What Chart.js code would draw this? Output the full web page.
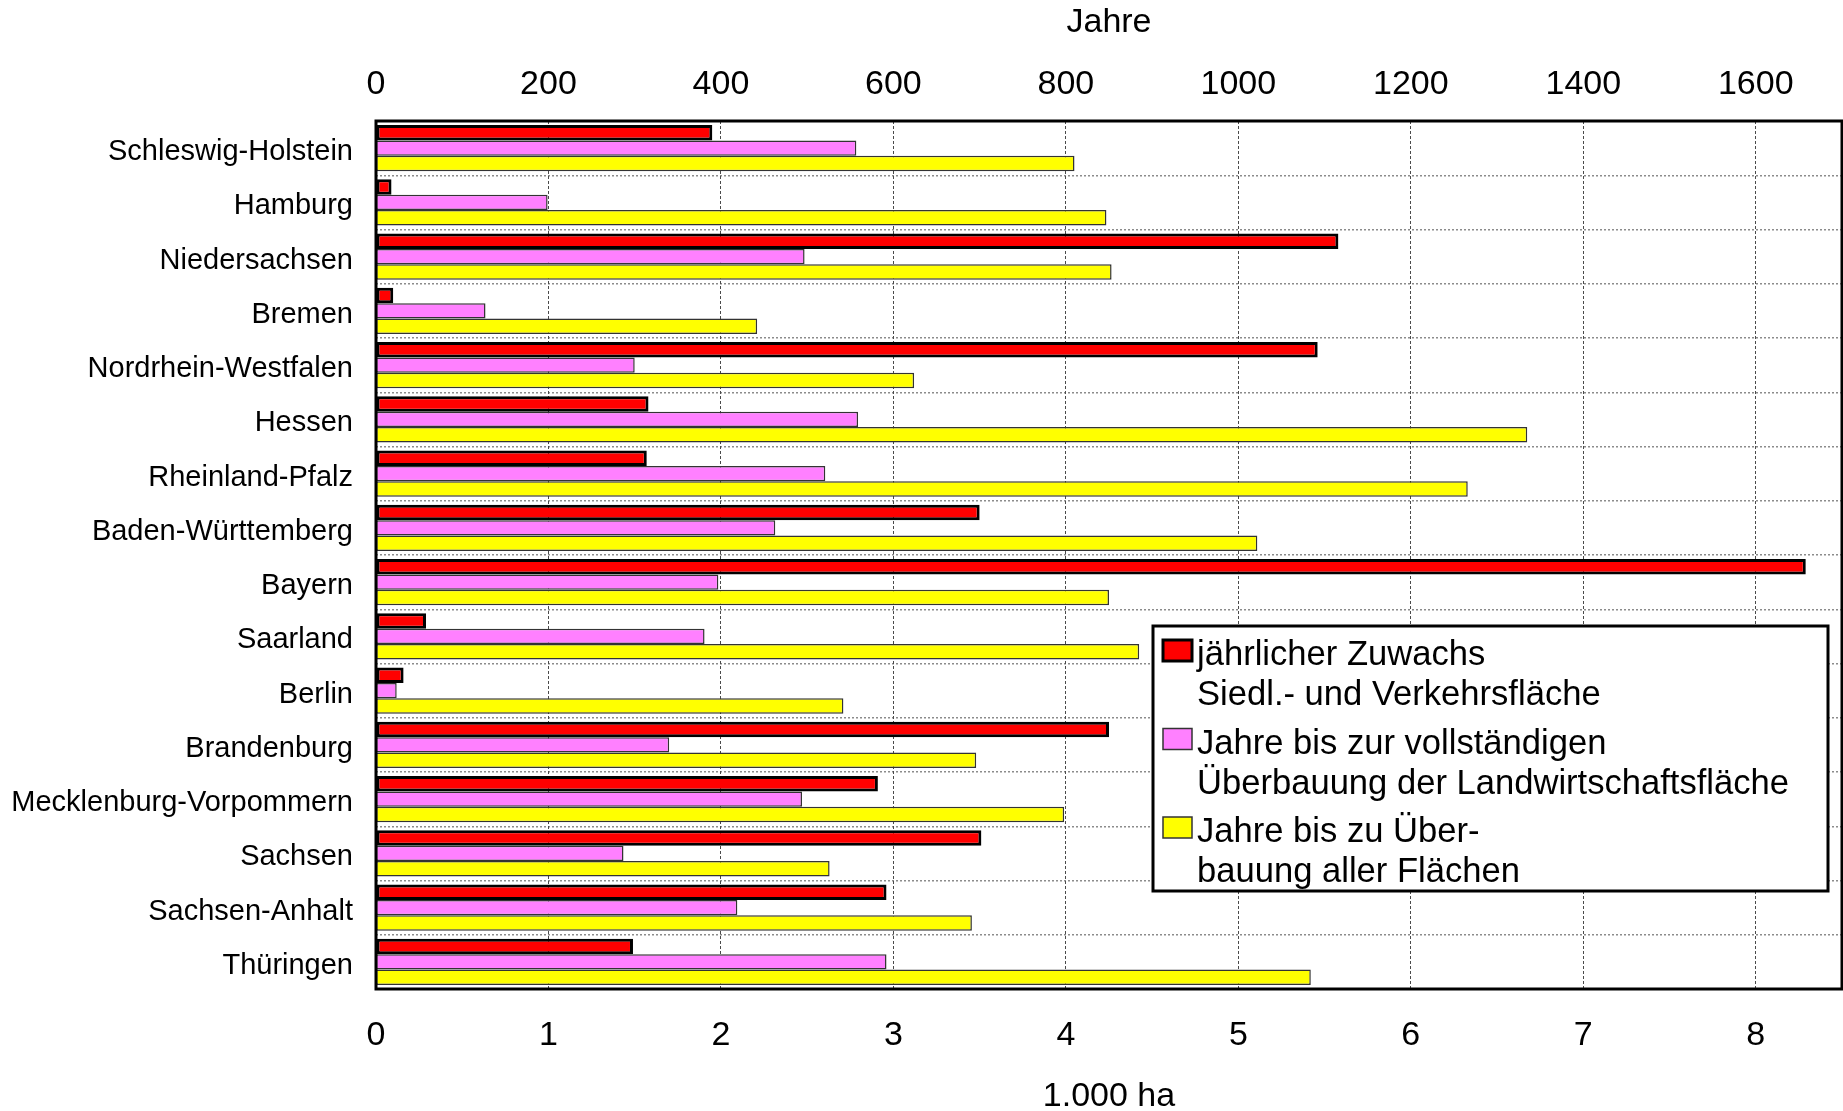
<!DOCTYPE html>
<html lang="de">
<head>
<meta charset="utf-8">
<title>Siedlungs- und Verkehrsfläche nach Bundesländern</title>
<script src="https://cdn.jsdelivr.net/npm/chart.js@4/dist/chart.umd.min.js"></script>
<style>
  html, body { margin: 0; padding: 0; background: #fff; }
  canvas { display: block; }
</style>
</head>
<body>
<canvas id="chart" width="1843" height="1111"></canvas>
<script>
// Bundesländer
const laender = [
  'Schleswig-Holstein', 'Hamburg', 'Niedersachsen', 'Bremen',
  'Nordrhein-Westfalen', 'Hessen', 'Rheinland-Pfalz', 'Baden-Württemberg',
  'Bayern', 'Saarland', 'Berlin', 'Brandenburg',
  'Mecklenburg-Vorpommern', 'Sachsen', 'Sachsen-Anhalt', 'Thüringen'
];

// jährlicher Zuwachs der Siedlungs- und Verkehrsfläche (1.000 ha)
const zuwachsTsdHa = [1.95, 0.09, 5.58, 0.10, 5.46, 1.58, 1.57, 3.50, 8.29, 0.29, 0.16, 4.25, 2.91, 3.51, 2.96, 1.49];

// Jahre bis zur vollständigen Überbauung der Landwirtschaftsfläche
const jahreLandwirtschaft = [557, 199, 497, 127, 300, 559, 521, 463, 397, 381, 24, 340, 494, 287, 419, 592];

// Jahre bis zur Überbauung aller Flächen
const jahreAlleFlaechen = [810, 847, 853, 442, 624, 1335, 1266, 1022, 850, 885, 542, 696, 798, 526, 691, 1084];

// Achsenbeschriftungen
const jahreTicks = [0, 200, 400, 600, 800, 1000, 1200, 1400, 1600];
const haTicks = [0, 1, 2, 3, 4, 5, 6, 7, 8];

// Legendentexte (zweizeilig)
const legendenTexte = [
  ['jährlicher Zuwachs', 'Siedl.- und Verkehrsfläche'],
  ['Jahre bis zur vollständigen', 'Überbauung der Landwirtschaftsfläche'],
  ['Jahre bis zu Über-', 'bauung aller Flächen']
];

const FONT = "'Liberation Sans', Arial, Helvetica, sans-serif";

// Rahmen um die Zeichenfläche
const plotFrame = {
  id: 'plotFrame',
  afterDatasetsDraw(chart) {
    const { ctx, chartArea: a } = chart;
    ctx.save();
    ctx.strokeStyle = '#000';
    ctx.lineWidth = 3;
    ctx.strokeRect(a.left, a.top, a.right - a.left, a.bottom - a.top);
    ctx.restore();
  }
};

// Legende als Kasten innerhalb der Zeichenfläche
const boxLegend = {
  id: 'boxLegend',
  afterDraw(chart) {
    const { ctx, chartArea: a } = chart;
    const left = a.right - 689, top = a.top + 505, w = 675, h = 265;
    ctx.save();
    ctx.fillStyle = '#fff';
    ctx.fillRect(left, top, w, h);
    ctx.strokeStyle = '#000';
    ctx.lineWidth = 3;
    ctx.strokeRect(left, top, w, h);

    ctx.font = '34.6px ' + FONT;
    ctx.textBaseline = 'alphabetic';
    ctx.textAlign = 'left';
    chart.data.datasets.forEach((ds, i) => {
      const base = top + 39 + i * 88.5;
      // Farbfeld
      ctx.fillStyle = ds.backgroundColor;
      ctx.fillRect(left + 10, base - 25, 29, 21);
      ctx.strokeStyle = ds.legendBorder;
      ctx.lineWidth = ds.legendBorderWidth;
      ctx.strokeRect(left + 10, base - 25, 29, 21);
      // Text
      ctx.fillStyle = '#000';
      legendenTexte[i].forEach((line, j) => {
        ctx.fillText(line, left + 44, base + j * 40);
      });
    });
    ctx.restore();
  }
};

// Zahlen ohne Tausendertrennzeichen
const plainNumber = v => String(v);

new Chart(document.getElementById('chart'), {
  type: 'bar',
  data: {
    labels: laender,
    datasets: [
      {
        label: legendenTexte[0].join(' '),
        data: zuwachsTsdHa,
        xAxisID: 'xHa',
        backgroundColor: '#ff0000',
        borderColor: '#000000',
        borderWidth: 3,
        borderSkipped: false,
        legendBorder: '#000',
        legendBorderWidth: 3
      },
      {
        label: legendenTexte[1].join(' '),
        data: jahreLandwirtschaft,
        xAxisID: 'xJahre',
        backgroundColor: '#ff80ff',
        borderColor: '#333333',
        borderWidth: 1.5,
        borderSkipped: false,
        legendBorder: '#333',
        legendBorderWidth: 1.5
      },
      {
        label: legendenTexte[2].join(' '),
        data: jahreAlleFlaechen,
        xAxisID: 'xJahre',
        backgroundColor: '#ffff00',
        borderColor: '#333333',
        borderWidth: 1.5,
        borderSkipped: false,
        legendBorder: '#333',
        legendBorderWidth: 1.5
      }
    ]
  },
  options: {
    indexAxis: 'y',
    responsive: false,
    animation: false,
    devicePixelRatio: 1,
    categoryPercentage: 0.85,
    barPercentage: 1.0,
    layout: { padding: { left: 0, right: 1, top: 0, bottom: 0 } },
    plugins: {
      legend: { display: false },
      tooltip: { enabled: false }
    },
    scales: {
      y: {
        type: 'category',
        position: 'left',
        grid: { offset: true, color: '#8c8c8c', lineWidth: 1.5, drawTicks: false },
        border: { display: false, dash: [2, 2] },
        ticks: { color: '#000', font: { family: FONT, size: 29 }, padding: 23, labelOffset: 4 },
        afterFit(s) { s.width = 376; }
      },
      xHa: {
        type: 'linear',
        position: 'bottom',
        min: 0,
        max: 8.5,
        grid: { color: '#4a4a4a', lineWidth: 1, drawTicks: false },
        border: { display: false, dash: [3, 2] },
        ticks: {
          color: '#000', font: { family: FONT, size: 34 }, padding: 26,
          includeBounds: false, callback: plainNumber
        },
        afterBuildTicks(s) { s.ticks = haTicks.map(v => ({ value: v })); },
        title: {
          display: true, text: '1.000 ha', color: '#000',
          font: { family: FONT, size: 34, lineHeight: 0.85 }, padding: 0
        },
        afterFit(s) { s.height = 122; }
      },
      xJahre: {
        type: 'linear',
        position: 'top',
        min: 0,
        max: 1700,
        grid: { display: false, drawTicks: false },
        border: { display: false },
        ticks: {
          color: '#000', font: { family: FONT, size: 34 }, padding: 16,
          includeBounds: false, callback: plainNumber
        },
        afterBuildTicks(s) { s.ticks = jahreTicks.map(v => ({ value: v })); },
        title: {
          display: true, text: 'Jahre', color: '#000',
          font: { family: FONT, size: 34, lineHeight: 1 }, padding: { top: 6, bottom: 0 }
        },
        afterFit(s) { s.height = 121; }
      }
    }
  },
  plugins: [plotFrame, boxLegend]
});
</script>
</body>
</html>
